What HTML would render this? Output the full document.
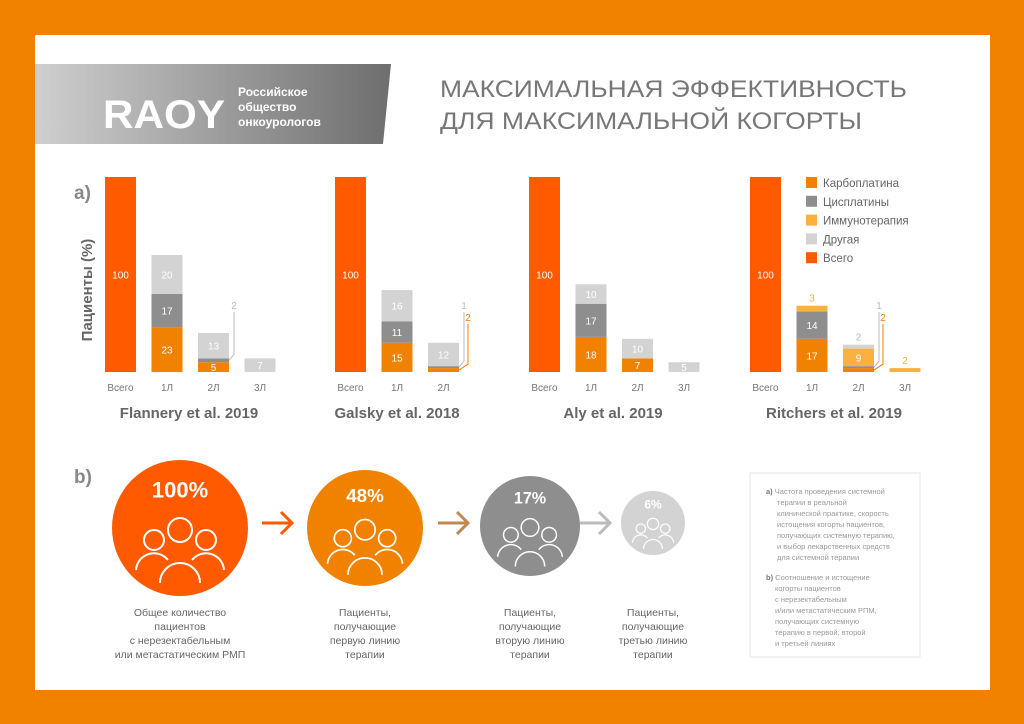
<!DOCTYPE html>
<html><head><meta charset="utf-8"><style>
body{margin:0;background:#F08200;font-family:"Liberation Sans","Noto Sans CJK SC",sans-serif;}
svg{display:block}
</style></head><body>
<svg id="page" width="1024" height="724" viewBox="0 0 1024 724">
<rect x="0" y="0" width="1024" height="724" fill="#F08200"/>
<rect x="35" y="35" width="955" height="655" fill="#fff"/>
<defs><linearGradient id="lg" x1="0" x2="1"><stop offset="0" stop-color="#cfcfcf"/><stop offset="1" stop-color="#6e6e6e"/></linearGradient></defs>
<g>
<polygon points="35,64 391,64 383,144 35,144" fill="url(#lg)"/>
<text x="103" y="128" font-size="40" font-weight="bold" fill="#fff" textLength="122" lengthAdjust="spacingAndGlyphs">RAOY</text>
<text x="238" y="96" font-size="12" font-weight="bold" fill="#fff"><tspan x="238">Российское</tspan><tspan x="238" dy="15">общество</tspan><tspan x="238" dy="15">онкоурологов</tspan></text>
</g>
<g fill="#777" font-size="24">
<text x="440" y="97" textLength="467" lengthAdjust="spacingAndGlyphs">МАКСИМАЛЬНАЯ ЭФФЕКТИВНОСТЬ</text>
<text x="440" y="129" textLength="422" lengthAdjust="spacingAndGlyphs">ДЛЯ МАКСИМАЛЬНОЙ КОГОРТЫ</text>
</g>
<text x="74" y="199" font-size="19" font-weight="bold" fill="#888">a)</text>
<text x="74" y="483" font-size="19" font-weight="bold" fill="#888">b)</text>
<text transform="translate(92,290) rotate(-90)" text-anchor="middle" font-size="15" font-weight="bold" fill="#666">Пациенты (%)</text>
<g id="charts"></g>
<g id="legend"></g>
<g id="flow"></g>
<g>
<rect x="750" y="473" width="170" height="184" fill="#fff" stroke="#e6e6e6"/>
<text font-size="7.5" fill="#999">
<tspan x="766" y="494"><tspan font-weight="bold" fill="#777">a)</tspan> Частота проведения системной</tspan>
<tspan x="777" dy="11">терапии в реальной</tspan><tspan x="777" dy="11">клинической практике, скорость</tspan>
<tspan x="777" dy="11">истощения когорты пациентов,</tspan><tspan x="777" dy="11">получающих системную терапию,</tspan>
<tspan x="777" dy="11">и выбор лекарственных средств</tspan><tspan x="777" dy="11">для системной терапии</tspan>
<tspan x="766" y="580"><tspan font-weight="bold" fill="#777">b)</tspan> Соотношение и истощение</tspan>
<tspan x="775" dy="11">когорты пациентов</tspan><tspan x="775" dy="11">с нерезектабельным</tspan>
<tspan x="775" dy="11">и/или метастатическим РПМ,</tspan><tspan x="775" dy="11">получающих системную</tspan>
<tspan x="775" dy="11">терапию в первой, второй</tspan><tspan x="775" dy="11">и третьей линиях</tspan>
</text></g>
</svg>
<script>
const NS='http://www.w3.org/2000/svg';
const studies=['Flannery et al. 2019','Galsky et al. 2018','Aly et al. 2019','Ritchers et al. 2019'];
const lineLabels=['Всего','1Л','2Л','3Л'];
const totals=[100,100,100,100];
const carbo=[[23,5,0],[15,2],[18,7,0],[17,2,0]];
const cis=[[17,2,0],[11,1],[17,0,0],[14,1,0]];
const immuno=[[0,0,0],[0,0],[0,0,0],[3,9,2]];
const other=[[20,13,7],[16,12],[10,10,5],[0,2,0]];
const legendLabels=['Карбоплатина','Цисплатины','Иммунотерапия','Другая','Всего'];
const flowValues=[100,48,17,6];
const flowCaptions=[['Общее количество','пациентов','с нерезектабельным','или метастатическим РМП'],['Пациенты,','получающие','первую линию','терапии'],['Пациенты,','получающие','вторую линию','терапии'],['Пациенты,','получающие','третью линию','терапии']];
const colors={carbo:'#F08200',cis:'#8E8E8E',immuno:'#FBB040',other:'#D3D3D3',total:'#FF5A00'};
const groupX=[105,335,529,750];
const baseY=372,pxPer=1.95,barW=31,step=46.5;
const y=v=>baseY-v*pxPer;
function mk(tag,attrs,parent){const e=document.createElementNS(NS,tag);for(const k in attrs)e.setAttribute(k,attrs[k]);parent.appendChild(e);return e;}
const charts=document.getElementById('charts');
studies.forEach((s,g)=>{
  const grp=mk('g',{},charts);
  
  
  const x0=groupX[g];
  const tb=mk('rect',{x:x0,y:y(totals[g]),width:barW,height:totals[g]*pxPer,fill:colors.total},grp);
  
  
  const tt=mk('text',{x:x0+barW/2,y:y(totals[g]/2)+4,'text-anchor':'middle','font-size':10,fill:'#fff'},grp);tt.textContent=totals[g];
  const nLines=carbo[g].length;
  for(let l=0;l<=nLines;l++){
    const lab=mk('text',{x:x0+l*step+barW/2,y:391,'text-anchor':'middle','font-size':10,fill:'#777'},grp);
    lab.textContent=lineLabels[l];
    
    
  }
  for(let l=0;l<nLines;l++){
    const bx=x0+(l+1)*step;let acc=0;
    [['carbo',carbo],['cis',cis],['immuno',immuno],['other',other]].forEach(([k,arr])=>{
      const v=arr[g][l];if(!v)return;
      const r=mk('rect',{x:bx,y:y(acc+v),width:barW,height:v*pxPer,fill:colors[k]},grp);
      
      
      if(v>=5){const t=mk('text',{x:bx+barW/2,y:y(acc+v/2)+4,'text-anchor':'middle','font-size':10,fill:'#fff'},grp);t.textContent=v;}
      else{
        const above=(k==='immuno'||k==='other')&&acc+v>=Math.max(0,carbo[g][l]+cis[g][l]+immuno[g][l]+other[g][l])-0.01;
        if(above){const t=mk('text',{x:bx+barW/2,y:y(acc+v)-4,'text-anchor':'middle','font-size':10,fill:colors[k]==='#D3D3D3'?'#bbb':colors[k]},grp);t.textContent=v;}
        else{
          const off=k==='carbo'?14:6;const col=k==='carbo'?colors.carbo:'#bbb';
          const ly=y(acc+v/2);
          mk('polyline',{points:`${bx+barW},${ly} ${bx+barW+off/2+2},${ly-6} ${bx+barW+off/2+2},${baseY-60+(k==='carbo'?12:0)}`,fill:'none',stroke:col,'stroke-width':1},grp);
          const t=mk('text',{x:bx+barW+off/2+2,y:baseY-63+(k==='carbo'?12:0),'text-anchor':'middle','font-size':10,fill:col},grp);t.textContent=v;
        }
      }
      acc+=v;
    });
  }
  const ttl=mk('text',{x:x0+(nLines===2?62:84),y:418,'text-anchor':'middle','font-size':15,'font-weight':'bold',fill:'#666'},grp);
  ttl.textContent=s;
  
  
});
const leg=document.getElementById('legend');
const legCols=[colors.carbo,colors.cis,colors.immuno,colors.other,colors.total];
legendLabels.forEach((t,i)=>{
  const g=mk('g',{},leg);
  
  
  mk('rect',{x:806,y:177+i*18.8,width:11,height:11,fill:legCols[i]},g);
  const tx=mk('text',{x:823,y:187+i*18.8,'font-size':11.5,fill:'#666'},g);tx.textContent=t;
});
const flow=document.getElementById('flow');
const cx=[180,365,530,653],cy=[528,528,526,523],rad=[68,58,50,32],fCols=['#FF5A00','#F08200','#8E8E8E','#D3D3D3'];
flowValues.forEach((v,i)=>{
  const g=mk('g',{},flow);
  
  
  const r=rad[i];
  mk('circle',{cx:cx[i],cy:cy[i],r:r,fill:fCols[i]},g);
  const s=r/68;
  const pct=mk('text',{x:cx[i],y:cy[i]-r*0.45,'text-anchor':'middle','font-size':Math.max(12,22*s),'font-weight':'bold',fill:'#fff'},g);pct.textContent=v+'%';
  const ic={fill:'none',stroke:'#fff','stroke-width':Math.max(1.2,2*s)};
  mk('circle',Object.assign({cx:cx[i],cy:cy[i]+2*s,r:12*s},ic),g);
  mk('circle',Object.assign({cx:cx[i]-26*s,cy:cy[i]+12*s,r:10*s},ic),g);
  mk('circle',Object.assign({cx:cx[i]+26*s,cy:cy[i]+12*s,r:10*s},ic),g);
  mk('path',Object.assign({d:`M${cx[i]-20*s},${cy[i]+55*s} A${20*s} ${20*s} 0 0 1 ${cx[i]+20*s},${cy[i]+55*s}`},ic),g);
  mk('path',Object.assign({d:`M${cx[i]-44*s},${cy[i]+42*s} A${18*s} ${18*s} 0 0 1 ${cx[i]-12*s},${cy[i]+32*s}`},ic),g);
  mk('path',Object.assign({d:`M${cx[i]+44*s},${cy[i]+42*s} A${18*s} ${18*s} 0 0 0 ${cx[i]+12*s},${cy[i]+32*s}`},ic),g);
  flowCaptions[i].forEach((ln,j)=>{const t=mk('text',{x:cx[i],y:616+j*14,'text-anchor':'middle','font-size':10.5,fill:'#666'},g);t.textContent=ln;});
});
const arrows=[[262,292,'#FF5A00'],[438,468,'#C08850'],[580,610,'#bbb']];
arrows.forEach(a=>{
  const g=mk('g',{},flow);
  
  
  mk('path',{d:`M${a[0]},523 H${a[1]} M${a[1]-11},512 L${a[1]},523 L${a[1]-11},534`,fill:'none',stroke:a[2],'stroke-width':3},g);
});
</script>
</body></html>
